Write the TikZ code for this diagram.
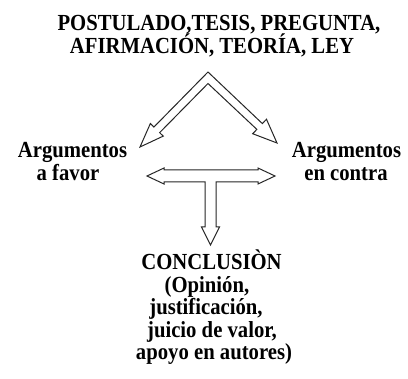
\documentclass[tikz,border=0pt]{standalone}
\usepackage{fontspec}
\setmainfont{Liberation Serif}
\newfontfamily\reffont[FakeStretch=0.9]{Liberation Serif}
\usetikzlibrary{calc}
\tikzset{
  txt/.style={font=\reffont\fontsize{23}{23}\selectfont\bfseries,inner sep=0pt,anchor=base},
  blockarrow/.style={draw=black!85,line width=1pt,line join=miter,fill=white}
}
\begin{document}
\begin{tikzpicture}[x=1pt,y=-1pt]
\useasboundingbox (0,0) rectangle (408,379);
%
\node[txt] (tesis1) at (219,30.5) {POSTULADO,TESIS, PREGUNTA,};
\node[txt] (tesis2) at (212,53.5) {AFIRMACIÓN, TEORÍA, LEY};
%
\node[txt] (favor1) at (72.5,158) {Argumentos};
\node[txt] (favor2) at (68,180.5) {a favor};
\node[txt] (contra1) at (346.5,158) {Argumentos};
\node[txt] (contra2) at (346,180.5) {en contra};
%
\node[txt] (concl1) at (211.5,270) {CONCLUSIÒN};
\node[txt] (concl2) at (207,292.5) {(Opinión,};
\node[txt] (concl3) at (206,315) {justificación,};
\node[txt] (concl4) at (212,337.5) {juicio de valor,};
\node[txt] (concl5) at (214,360) {apoyo en autores)};
%
\coordinate (apex) at (208,77.5);
\coordinate (tipL) at (140,147);
\coordinate (tipR) at (277,143);
\coordinate (baseL) at ($(tipL)!24pt!(apex)$);
\coordinate (baseR) at ($(tipR)!24pt!(apex)$);
\draw[blockarrow] (tipL) -- ($(baseL)!9pt!-90:(tipL)$) -- ($(baseL)!4pt!-90:(tipL)$)
  -- (208,72) -- ($(baseR)!4pt!90:(tipR)$) -- ($(baseR)!10pt!90:(tipR)$) -- (tipR)
  -- ($(baseR)!10pt!-90:(tipR)$) -- ($(baseR)!4pt!-90:(tipR)$) -- (208,83.5)
  -- ($(baseL)!4pt!90:(tipL)$) -- ($(baseL)!9pt!90:(tipL)$) -- cycle;
%
\coordinate (tL) at (147,176);
\draw[blockarrow] (tL) -- ++(17,-8) -- ++(0,2) -- ++(94,0) -- ++(0,-2) -- ++(17,8)
  -- ++(-17,8) -- ++(0,-2) -- ++(-42,0) -- ++(0,45) -- ++(3.5,0) -- ++(-9,18)
  -- ++(-9,-18) -- ++(3.5,0) -- ++(0,-45) -- ++(-41,0) -- ++(0,2) -- cycle;
\end{tikzpicture}
\end{document}
